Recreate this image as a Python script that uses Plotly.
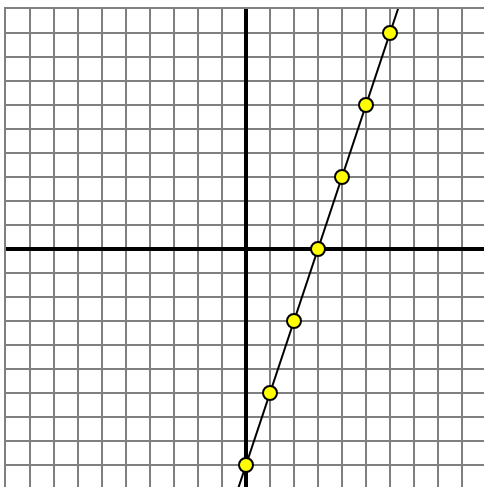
import plotly.graph_objects as go

# points on the line y = 3x - 9
pt_x = [0, 1, 2, 3, 4, 5, 6]
pt_y = [-9, -6, -3, 0, 3, 6, 9]

# line runs past the plot edges
line_x = [-0.4, 6.4]
line_y = [-10.2, 10.2]

fig = go.Figure()

fig.add_trace(go.Scatter(
    x=line_x, y=line_y, mode='lines',
    line=dict(color='black', width=2),
    hoverinfo='skip'
))

fig.add_trace(go.Scatter(
    x=pt_x, y=pt_y, mode='markers',
    marker=dict(size=14, color='#ffff00', line=dict(color='black', width=2)),
    cliponaxis=False
))

axis_style = dict(
    dtick=1, showticklabels=False, ticks='',
    showgrid=True, gridcolor='#808080', gridwidth=2,
    zeroline=True, zerolinecolor='black', zerolinewidth=4,
    showline=True, linecolor='#808080', linewidth=2,
    fixedrange=True
)

# edge lines only on the top and left, the other sides are cut off
fig.update_xaxes(range=[-10, 9.9167], side='top', **axis_style)
fig.update_yaxes(range=[-9.9167, 10], side='left', **axis_style)

fig.update_layout(
    width=484, height=487,
    margin=dict(l=6, r=0, t=9, b=0),
    plot_bgcolor='white', paper_bgcolor='white',
    showlegend=False
)

# drop the default page margin so the chart sits at the window corner
fig.write_html(
    "out.html",
    config={'displayModeBar': False},
    post_script="document.body.style.margin='0';document.body.style.overflow='hidden';"
)
